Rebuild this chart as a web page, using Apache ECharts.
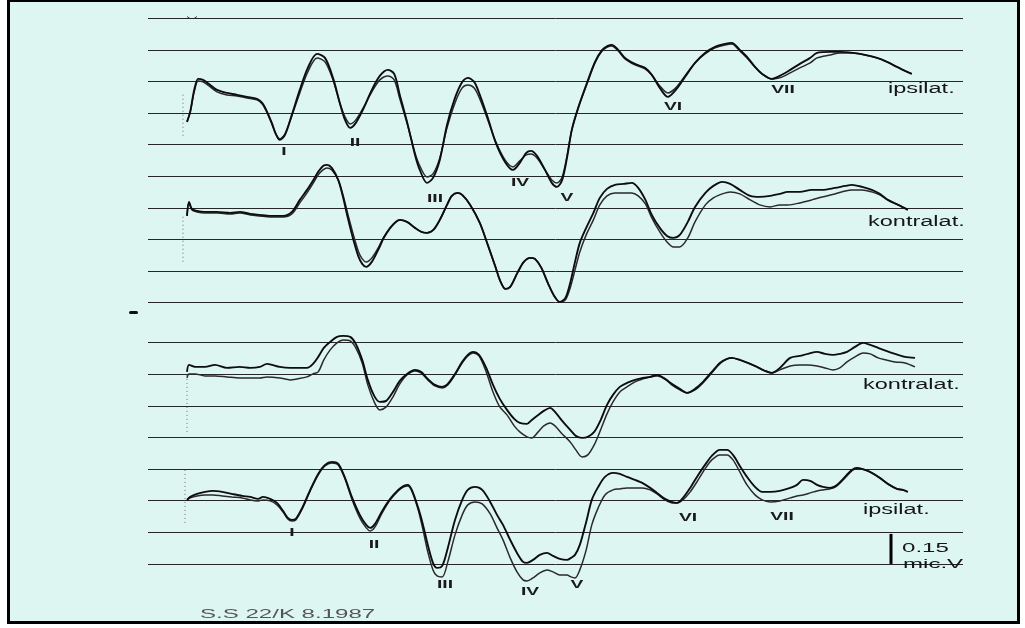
<!DOCTYPE html>
<html><head><meta charset="utf-8">
<script src="https://cdn.jsdelivr.net/npm/echarts@6/dist/echarts.min.js"></script>
<style>
html,body{margin:0;padding:0;background:#fff;}
#frame{position:absolute;left:7px;top:0;width:1013px;height:624px;box-sizing:border-box;border-style:solid;border-color:#000;border-width:2px 3px 3px 3px;background:#def6f2;}
#chart{position:absolute;left:0;top:0;width:1025px;height:628px;}
</style></head><body>
<div id="frame"></div>
<div id="chart"></div>
<script>
// time axis in ms, amplitude in µV (scale bar = 0.15 µV)
const tTop1 = [0,0.04,0.09,0.14,0.2,0.29,0.375,0.5,0.625,0.75,
 0.875,0.94,0.99,1.06,1.11,1.16,1.225,1.31,1.41,1.51,
 1.625,1.725,1.825,1.91,1.975,2.04,2.11,2.21,2.31,2.41,
 2.51,2.59,2.66,2.76,2.85,2.91,3.0,3.075,3.16,3.25,
 3.35,3.44,3.51,3.59,3.66,3.76,3.86,3.975,4.075,4.16,
 4.24,4.3,4.375,4.475,4.56,4.625,4.69,4.75,4.81,4.89,
 5.0,5.1,5.19,5.26,5.31,5.39,5.475,5.6,5.725,5.81,
 5.91,6.01,6.11,6.225,6.35,6.475,6.6,6.725,6.81,6.91,
 7.0,7.1,7.19,7.31,7.41,7.54,7.66,7.79,7.875,8.04,
 8.16,8.325,8.475,8.625,8.75,8.875,8.975,9.06];
const ipsiTopA = [0.904,0.954,1.064,1.119,1.114,1.089,1.064,1.049,1.039,1.029,
 1.019,0.999,0.964,0.899,0.844,0.814,0.839,0.939,1.064,1.174,
 1.244,1.224,1.124,0.999,0.914,0.874,0.899,0.974,1.064,1.134,
 1.164,1.144,1.039,0.889,0.739,0.664,0.599,0.624,0.714,0.889,
 1.024,1.104,1.124,1.104,1.039,0.924,0.799,0.704,0.664,0.699,
 0.749,0.759,0.734,0.664,0.599,0.579,0.614,0.724,0.864,0.974,
 1.099,1.204,1.264,1.284,1.289,1.264,1.224,1.194,1.174,1.139,
 1.074,1.029,1.064,1.129,1.199,1.249,1.279,1.294,1.299,1.264,
 1.229,1.179,1.144,1.119,1.134,1.164,1.194,1.224,1.249,1.254,
 1.254,1.249,1.239,1.224,1.204,1.179,1.159,1.144];
const ipsiTopB = [0.904,0.954,1.054,1.109,1.104,1.079,1.054,1.039,1.034,1.024,
 1.014,0.994,0.959,0.894,0.844,0.819,0.844,0.934,1.049,1.154,
 1.224,1.204,1.114,0.999,0.929,0.894,0.914,0.979,1.054,1.114,
 1.134,1.114,1.019,0.884,0.749,0.684,0.629,0.644,0.724,0.874,
 0.999,1.074,1.089,1.074,1.019,0.914,0.804,0.714,0.679,0.709,
 0.739,0.744,0.724,0.664,0.614,0.599,0.629,0.734,0.864,0.974,
 1.094,1.199,1.259,1.279,1.284,1.259,1.219,1.189,1.169,1.139,
 1.084,1.049,1.074,1.134,1.199,1.244,1.274,1.289,1.294,1.259,
 1.224,1.179,1.144,1.119,1.124,1.149,1.174,1.199,1.224,1.239,
 1.249,1.249,1.239,1.224,1.204,1.179,1.159,1.144];

const tTop2 = [0,0.025,0.06,0.125,0.225,0.375,0.54,0.66,0.79,0.91,
 1.04,1.2,1.31,1.41,1.5,1.58,1.64,1.7,1.75,1.81,
 1.89,1.95,2.01,2.08,2.14,2.19,2.24,2.31,2.39,2.46,
 2.54,2.61,2.66,2.75,2.85,2.93,3.0,3.08,3.16,3.25,
 3.31,3.38,3.44,3.54,3.66,3.76,3.86,3.91,3.98,4.04,
 4.13,4.21,4.29,4.35,4.43,4.51,4.59,4.66,4.73,4.79,
 4.85,4.91,4.99,5.08,5.16,5.25,5.35,5.46,5.56,5.64,
 5.73,5.81,5.91,6.0,6.08,6.16,6.26,6.35,6.48,6.58,
 6.69,6.79,6.91,7.04,7.16,7.29,7.41,7.51,7.66,7.81,
 7.94,8.1,8.23,8.31,8.44,8.56,8.66,8.76,8.89,9.01];
const kontraTopA = [0.434,0.504,0.469,0.459,0.454,0.454,0.449,0.454,0.444,0.439,
 0.434,0.434,0.454,0.514,0.564,0.614,0.654,0.684,0.689,0.674,
 0.614,0.529,0.424,0.314,0.234,0.194,0.179,0.204,0.264,0.324,
 0.374,0.404,0.414,0.404,0.374,0.354,0.349,0.364,0.414,0.489,
 0.534,0.549,0.539,0.489,0.399,0.289,0.174,0.114,0.069,0.079,
 0.149,0.204,0.224,0.219,0.174,0.099,0.034,0.004,0.024,0.099,
 0.204,0.299,0.374,0.449,0.524,0.569,0.589,0.594,0.599,0.574,
 0.514,0.439,0.374,0.334,0.324,0.339,0.404,0.479,0.549,0.584,
 0.604,0.594,0.564,0.534,0.529,0.534,0.544,0.554,0.554,0.564,
 0.564,0.574,0.584,0.589,0.579,0.564,0.544,0.514,0.489,0.464];
const kontraTopB = [0.434,0.504,0.464,0.454,0.449,0.449,0.444,0.449,0.439,0.434,
 0.429,0.429,0.444,0.499,0.549,0.599,0.639,0.664,0.674,0.664,
 0.614,0.539,0.444,0.339,0.259,0.219,0.204,0.224,0.274,0.329,
 0.374,0.404,0.414,0.404,0.374,0.354,0.349,0.364,0.414,0.489,
 0.534,0.549,0.539,0.489,0.399,0.289,0.174,0.114,0.069,0.079,
 0.149,0.204,0.224,0.219,0.174,0.099,0.034,0.004,0.014,0.074,
 0.164,0.254,0.339,0.414,0.489,0.534,0.549,0.549,0.549,0.534,
 0.494,0.424,0.354,0.304,0.279,0.279,0.324,0.404,0.489,0.524,
 0.544,0.554,0.544,0.514,0.489,0.479,0.489,0.489,0.499,0.514,
 0.529,0.544,0.559,0.564,0.564,0.554,0.539,0.514,0.489,0.464];

const tBot1 = [0,0.025,0.1,0.225,0.35,0.5,0.66,0.79,0.91,1.0,
 1.16,1.29,1.375,1.5,1.575,1.64,1.71,1.79,1.875,1.95,
 2.04,2.11,2.19,2.26,2.34,2.41,2.49,2.575,2.66,2.75,
 2.85,2.925,3.01,3.1,3.19,3.26,3.35,3.44,3.51,3.575,
 3.65,3.74,3.825,3.91,4.0,4.09,4.16,4.25,4.31,4.39,
 4.46,4.54,4.6,4.69,4.79,4.86,4.94,5.01,5.09,5.16,
 5.25,5.325,5.41,5.5,5.6,5.7,5.79,5.875,5.975,6.06,
 6.16,6.25,6.35,6.45,6.56,6.66,6.75,6.81,6.91,7.01,
 7.125,7.225,7.31,7.41,7.54,7.66,7.76,7.875,7.975,8.075,
 8.16,8.25,8.35,8.45,8.54,8.64,8.74,8.85,8.975,9.1];
const kontraBotA = [0.960,0.995,0.985,0.985,0.995,0.980,0.985,0.980,0.985,1.000,
 0.985,0.980,0.980,0.980,1.000,1.035,1.080,1.110,1.135,1.140,
 1.135,1.100,1.020,0.920,0.840,0.810,0.815,0.860,0.915,0.950,
 0.970,0.960,0.925,0.895,0.885,0.900,0.950,1.010,1.045,1.060,
 1.045,0.980,0.895,0.825,0.770,0.725,0.705,0.700,0.720,0.745,
 0.765,0.780,0.760,0.715,0.670,0.640,0.630,0.635,0.660,0.710,
 0.795,0.845,0.885,0.905,0.920,0.930,0.935,0.945,0.925,0.900,
 0.875,0.855,0.875,0.910,0.960,1.005,1.025,1.030,1.020,1.005,
 0.985,0.965,0.955,0.980,1.030,1.040,1.050,1.060,1.050,1.045,
 1.050,1.060,1.085,1.105,1.095,1.080,1.065,1.050,1.035,1.030];
const kontraBotB = [0.930,0.950,0.950,0.940,0.940,0.935,0.930,0.930,0.930,0.935,
 0.930,0.920,0.925,0.935,0.950,0.960,1.020,1.070,1.105,1.120,
 1.115,1.080,1.005,0.895,0.810,0.770,0.785,0.835,0.900,0.945,
 0.965,0.955,0.920,0.890,0.880,0.895,0.945,1.005,1.040,1.055,
 1.040,0.960,0.860,0.785,0.745,0.690,0.660,0.635,0.630,0.660,
 0.690,0.705,0.690,0.650,0.610,0.570,0.535,0.545,0.595,0.660,
 0.750,0.810,0.860,0.885,0.910,0.925,0.935,0.940,0.925,0.895,
 0.870,0.855,0.870,0.905,0.955,1.000,1.025,1.030,1.020,1.005,
 0.985,0.965,0.955,0.970,0.990,0.995,0.995,0.990,0.980,0.970,
 0.980,1.010,1.035,1.055,1.050,1.030,1.020,1.010,1.005,0.985];

const tBot2 = [0,0.04,0.125,0.225,0.325,0.44,0.56,0.69,0.79,0.89,
 0.95,1.04,1.125,1.2,1.26,1.31,1.36,1.44,1.54,1.64,
 1.725,1.81,1.89,1.975,2.06,2.16,2.24,2.29,2.35,2.44,
 2.54,2.64,2.71,2.76,2.81,2.89,2.95,3.01,3.075,3.125,
 3.19,3.26,3.35,3.44,3.51,3.6,3.69,3.79,3.875,3.95,
 4.04,4.125,4.2,4.25,4.325,4.41,4.5,4.575,4.66,4.75,
 4.8,4.85,4.91,4.99,5.06,5.14,5.225,5.325,5.41,5.5,
 5.6,5.69,5.79,5.875,5.975,6.06,6.125,6.2,6.29,6.39,
 6.475,6.56,6.66,6.75,6.825,6.91,7.0,7.1,7.19,7.29,
 7.41,7.54,7.625,7.7,7.79,7.875,7.95,8.04,8.125,8.225,
 8.31,8.375,8.475,8.56,8.66,8.76,8.875,8.95,9.01];
const ipsiBotA = [0.320,0.335,0.350,0.360,0.365,0.360,0.350,0.340,0.335,0.325,
 0.335,0.325,0.305,0.265,0.230,0.220,0.225,0.280,0.370,0.450,
 0.495,0.510,0.500,0.430,0.335,0.245,0.195,0.180,0.200,0.265,
 0.325,0.370,0.390,0.395,0.370,0.280,0.195,0.095,0.005,-0.020,
 -0.010,0.080,0.220,0.320,0.370,0.385,0.370,0.310,0.245,0.195,
 0.120,0.055,0.010,0.005,0.020,0.045,0.055,0.040,0.025,0.020,
 0.030,0.045,0.095,0.210,0.320,0.385,0.435,0.455,0.450,0.435,
 0.420,0.405,0.380,0.355,0.325,0.310,0.305,0.330,0.380,0.445,
 0.495,0.540,0.570,0.570,0.545,0.490,0.435,0.385,0.360,0.360,
 0.365,0.380,0.395,0.420,0.415,0.395,0.385,0.380,0.395,0.435,
 0.470,0.480,0.470,0.455,0.430,0.400,0.375,0.370,0.360];
const ipsiBotB = [0.320,0.330,0.340,0.345,0.345,0.340,0.335,0.330,0.320,0.315,
 0.320,0.315,0.295,0.260,0.225,0.215,0.220,0.275,0.365,0.445,
 0.490,0.505,0.495,0.425,0.325,0.230,0.180,0.165,0.185,0.255,
 0.320,0.365,0.385,0.390,0.365,0.270,0.170,0.060,-0.030,-0.060,
 -0.065,0.010,0.145,0.245,0.295,0.310,0.300,0.250,0.180,0.120,
 0.030,-0.040,-0.080,-0.085,-0.070,-0.045,-0.030,-0.040,-0.055,-0.055,
 -0.065,-0.070,-0.030,0.070,0.195,0.280,0.345,0.370,0.375,0.380,
 0.380,0.380,0.370,0.350,0.320,0.305,0.305,0.320,0.360,0.420,
 0.475,0.520,0.545,0.545,0.520,0.460,0.395,0.345,0.320,0.310,
 0.315,0.330,0.340,0.345,0.355,0.365,0.370,0.375,0.390,0.430,
 0.465,0.480,0.470,0.455,0.430,0.400,0.375,0.370,0.360];

// stimulus onset marks (dotted) and amplitude scale bar
const stimTop1 = [[-0.05,1.04],[-0.05,0.82]];
const stimTop2 = [[-0.05,0.43],[-0.05,0.20]];
const stimBot1 = [[0,0.945],[0,0.66]];
const stimBot2 = [[-0.025,0.47],[-0.025,0.195]];
const scaleBar = [[8.8,0],[8.8,0.15]];

const waveNames = ['I','II','III','IV','V','VI','VII'];
const sideLabels = ['ipsilat.','kontralat.'];
const scaleLabels = ['0.15','mic.V'];
const footer = 'S.S 22/K 8.1987';

function zip(t, v){ return t.map((x,i)=>[x, v[i]]); }
function trace(g, data, color, w){
  return {type:'line', xAxisIndex:g, yAxisIndex:g, data, symbol:'none', showSymbol:false,
    smooth:0.3, clip:false, silent:true, animation:false, lineStyle:{color, width:w}, z:3};
}
function dotted(g, data){
  return {type:'line', xAxisIndex:g, yAxisIndex:g, data, symbol:'none', clip:false, silent:true,
    animation:false, lineStyle:{color:'#6a6a6a', width:1, type:[1,3]}, z:2};
}
const FONT = '"Liberation Sans", Arial, sans-serif';
function txt(text, x, y, font, align, sx, fill){
  return {type:'text', x, y, scaleX:sx, silent:true, z:10,
    style:{text, font: font+' '+FONT, fill: fill||'#151515',
      align, verticalAlign:'middle', textAlign:align, textVerticalAlign:'middle'}};
}
const topWavePos = [[284,152],[355,143],[435,199],[520,183],[567,198],[673,107],[783,90]];
const botWavePos = [[292,533],[374,545],[445,585],[530,592],[577,585],[688,518],[782,517]];
const elements = [];
waveNames.forEach((n,i)=>{
  elements.push(txt(n, topWavePos[i][0], topWavePos[i][1], 'bold 11px', 'center', 1.75, '#1a1a1a'));
  elements.push(txt(n, botWavePos[i][0], botWavePos[i][1], 'bold 11px', 'center', 1.75, '#1a1a1a'));
});
elements.push(txt(sideLabels[0], 888, 89, '14px', 'left', 1.68));
elements.push(txt(sideLabels[1], 868, 222, '14px', 'left', 1.68));
elements.push(txt(sideLabels[1], 863, 385, '14px', 'left', 1.68));
elements.push(txt(sideLabels[0], 863, 510, '14px', 'left', 1.68));
elements.push(txt(scaleLabels[0], 902, 548, '13px', 'left', 1.85));
elements.push(txt(scaleLabels[1], 903, 564, '13px', 'left', 1.85));
elements.push(txt(footer, 200, 614, '13px', 'left', 1.85, '#555'));
elements.push({type:'rect', silent:true, shape:{x:129, y:311, width:9, height:3, r:1.5}, style:{fill:'#111'}});
elements.push({type:'polyline', silent:true, shape:{points:[[187,16.5],[190,18.5],[194,18.5],[197,16.5]]}, style:{stroke:'#444', lineWidth:1, fill:null}});

const axisY = (max)=>({type:'value', min:0, max, interval:0.158,
  axisLine:{show:false}, axisTick:{show:false}, axisLabel:{show:false},
  splitLine:{show:true, lineStyle:{color:'#262626', width:1}}});
const axisX = (g)=>({type:'value', gridIndex:g, min:-0.4875, max:9.7, show:false, splitLine:{show:false}});

const option = {
  backgroundColor:'transparent',
  animation:false,
  grid:[{left:148, top:18.3, width:815, height:284.4},
        {left:148, top:342.7, width:815, height:221.2}],
  xAxis:[axisX(0), axisX(1)],
  yAxis:[Object.assign(axisY(1.422),{gridIndex:0}), Object.assign(axisY(1.106),{gridIndex:1})],
  series:[
    dotted(0, stimTop1), dotted(0, stimTop2), dotted(1, stimBot1), dotted(1, stimBot2),
    trace(0, zip(tTop1, ipsiTopB), '#2a2a2a', 1.5),
    trace(0, zip(tTop1, ipsiTopA), '#0d0d0d', 1.9),
    trace(0, zip(tTop2, kontraTopB), '#2a2a2a', 1.5),
    trace(0, zip(tTop2, kontraTopA), '#0d0d0d', 1.9),
    trace(1, zip(tBot1, kontraBotB), '#2a2a2a', 1.5),
    trace(1, zip(tBot1, kontraBotA), '#0d0d0d', 1.9),
    trace(1, zip(tBot2, ipsiBotB), '#2a2a2a', 1.5),
    trace(1, zip(tBot2, ipsiBotA), '#0d0d0d', 1.9),
    {type:'line', xAxisIndex:1, yAxisIndex:1, data:scaleBar, symbol:'none', clip:false, silent:true,
     animation:false, lineStyle:{color:'#000', width:3, cap:'butt'}, z:4}
  ],
  graphic:{elements}
};
const chart = echarts.init(document.getElementById('chart'));
chart.setOption(option);
</script>
</body></html>
